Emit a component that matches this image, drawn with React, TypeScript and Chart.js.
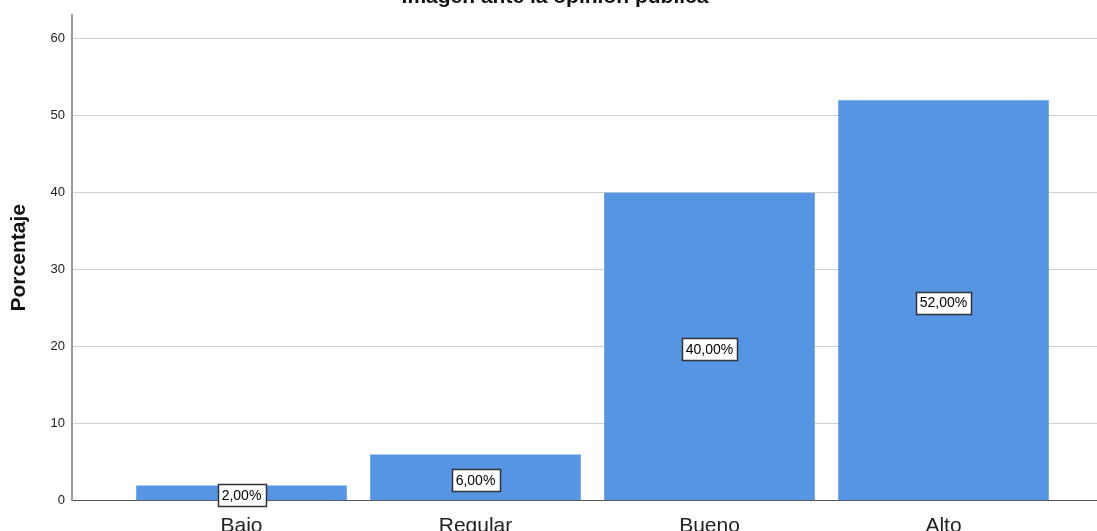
import React, { useEffect, useRef } from "react";
import { Chart, registerables } from "chart.js";

Chart.register(...registerables);

// Categories and their percentages
const categories: string[] = ["Bajo", "Regular", "Bueno", "Alto"];
const percentages: number[] = [2, 6, 40, 52];
const yTicks: number[] = [0, 10, 20, 30, 40, 50, 60];

const chartTitle = "Imagen ante la opinión pública";
const yAxisTitle = "Porcentaje";

const FONT = "'Liberation Sans', Arial, sans-serif";
const BAR_COLOR = "#5595e4";

// Label boxes placed in the middle of each bar, e.g. "40,00%"
const barValueLabels = {
  id: "barValueLabels",
  afterDatasetsDraw(chart: any) {
    const { ctx } = chart;
    const yScale = chart.scales.y;
    const meta = chart.getDatasetMeta(0);
    ctx.save();
    ctx.font = `14px ${FONT}`;
    ctx.textAlign = "center";
    ctx.textBaseline = "middle";
    meta.data.forEach((bar: any, i: number) => {
      const v = percentages[i];
      const text = v.toFixed(2).replace(".", ",") + "%";
      const cx = bar.x;
      const cy = yScale.getPixelForValue(v / 2) + 2;
      const w = Math.round(ctx.measureText(text).width + 8);
      const h = 22;
      const left = Math.round(cx - w / 2) + 0.5;
      const top = Math.round(cy - h / 2) + 0.5;
      ctx.fillStyle = "#ffffff";
      ctx.fillRect(left, top, w, h);
      ctx.strokeStyle = "#333333";
      ctx.lineWidth = 1.5;
      ctx.strokeRect(left, top, w, h);
      ctx.fillStyle = "#000000";
      ctx.fillText(text, cx, cy + 1);
    });
    ctx.restore();
  },
};

// Chart heading drawn at the very top edge
const topHeading = {
  id: "topHeading",
  afterDraw(chart: any) {
    const { ctx } = chart;
    ctx.save();
    ctx.font = `bold 21px ${FONT}`;
    ctx.fillStyle = "#111111";
    ctx.textAlign = "center";
    ctx.textBaseline = "alphabetic";
    ctx.fillText(chartTitle, 555, 3);
    ctx.restore();
  },
};

export default function App() {
  const canvasRef = useRef<HTMLCanvasElement | null>(null);

  useEffect(() => {
    if (!canvasRef.current) return;
    const chart = new Chart(canvasRef.current, {
      type: "bar",
      data: {
        datasets: [
          {
            label: yAxisTitle,
            data: percentages.map((p, i) => ({ x: i, y: p })),
            backgroundColor: BAR_COLOR,
            borderWidth: 0,
            categoryPercentage: 1,
            barPercentage: 0.9,
          },
        ],
      },
      options: {
        animation: false,
        responsive: false,
        maintainAspectRatio: false,
        layout: { padding: { top: 13, left: 0, right: 0, bottom: 0 } },
        plugins: {
          legend: { display: false },
          tooltip: { enabled: false },
          title: { display: false },
        },
        scales: {
          x: {
            type: "linear",
            offset: false,
            min: -0.7244,
            max: 3.656,
            afterBuildTicks: (scale: any) => {
              scale.ticks = categories.map((_, i) => ({ value: i }));
            },
            grid: { display: false, drawTicks: false },
            border: { display: true, color: "#555555", width: 1 },
            ticks: {
              padding: 13,
              color: "#222222",
              font: { family: FONT, size: 21 },
              callback: (v: any) => categories[Math.round(Number(v))] ?? "",
            },
          },
          y: {
            type: "linear",
            min: 0,
            max: 63.1,
            afterBuildTicks: (scale: any) => {
              scale.ticks = yTicks.map((t) => ({ value: t }));
            },
            afterFit: (scale: any) => {
              scale.width = 72;
            },
            grid: { color: "#cfcfcf", lineWidth: 1, drawTicks: false },
            border: { display: true, color: "#9a9a9a", width: 2 },
            ticks: {
              padding: 7,
              color: "#222222",
              font: { family: FONT, size: 13 },
            },
            title: {
              display: true,
              text: yAxisTitle,
              color: "#111111",
              font: { family: FONT, size: 21, weight: "bold" },
              padding: { top: 7, bottom: 0 },
            },
          },
        },
      },
      plugins: [barValueLabels, topHeading],
    } as any);
    return () => chart.destroy();
  }, []);

  return (
    <div style={{ position: "fixed", top: 0, left: 0, width: 1097, height: 531, overflow: "hidden", background: "#fff" }}>
      <canvas ref={canvasRef} width={1097} height={552} style={{ display: "block" }} />
    </div>
  );
}
